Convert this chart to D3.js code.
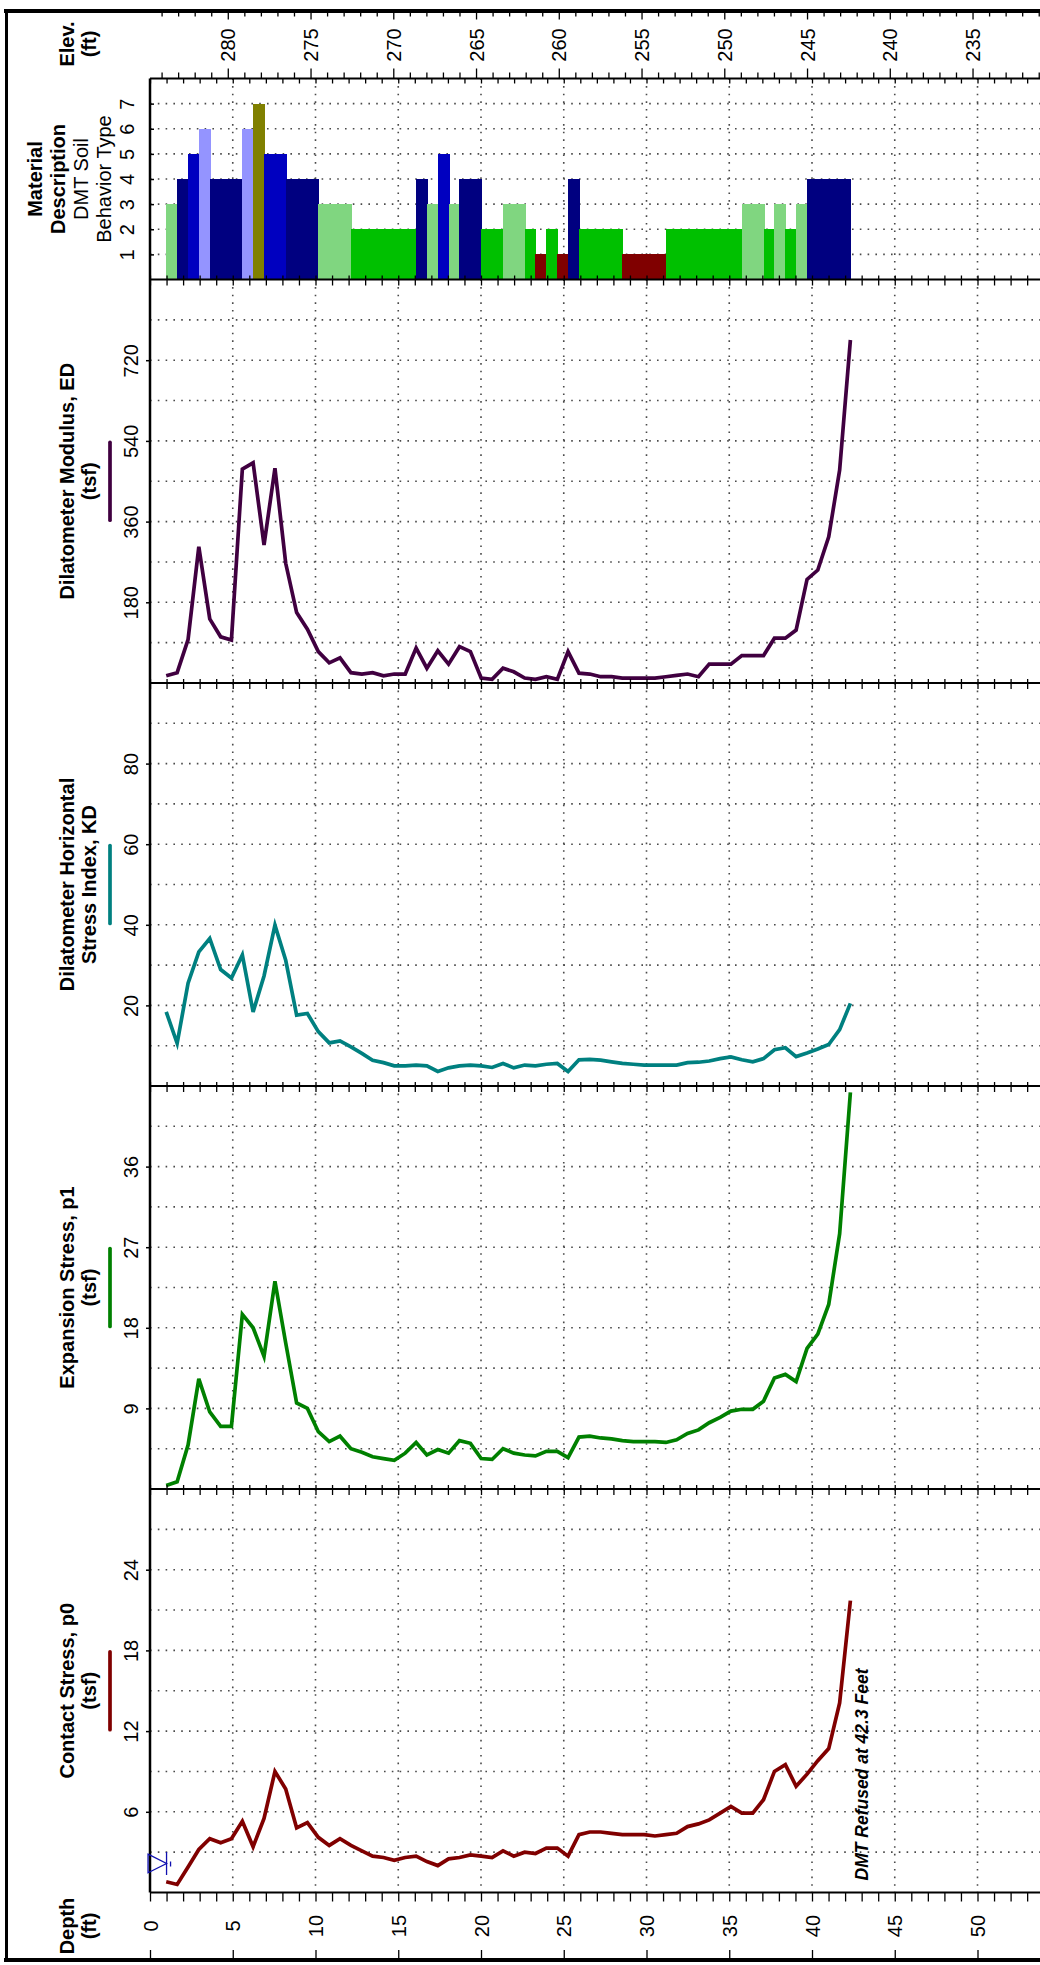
<!DOCTYPE html>
<html>
<head>
<meta charset="utf-8">
<script src="https://cdn.jsdelivr.net/npm/d3@7"></script>
<style>
    body { margin: 0; background: #fff; }
    svg { display: block; font-family: "Liberation Sans", Arial, sans-serif; }
</style>
</head>
<body>
<div class="chart"></div>
<script>
// depth of each DMT reading (ft)
const depths = [0.98, 1.64, 2.30, 2.95, 3.61, 4.27, 4.92, 5.58, 6.23, 6.89,
    7.55, 8.20, 8.86, 9.51, 10.17, 10.83, 11.48, 12.14, 12.80, 13.45,
    14.11, 14.76, 15.42, 16.08, 16.73, 17.39, 18.04, 18.70, 19.36, 20.01,
    20.67, 21.33, 21.98, 22.64, 23.29, 23.95, 24.61, 25.26, 25.92, 26.57,
    27.23, 27.89, 28.54, 29.20, 29.86, 30.51, 31.17, 31.82, 32.48, 33.14,
    33.79, 34.45, 35.10, 35.76, 36.42, 37.07, 37.73, 38.39, 39.04, 39.70,
    40.35, 41.01, 41.67, 42.32];

// soil behavior type for each interval depths[i]..depths[i+1]
const soilType = [3, 4, 5, 6, 4, 4, 4, 6, 7, 5, 5, 4, 4, 4, 3, 3, 3, 2, 2, 2,
    2, 2, 2, 4, 3, 5, 3, 4, 4, 2, 2, 3, 3, 2, 1, 2, 1, 4, 2, 2,
    2, 2, 1, 1, 1, 1, 2, 2, 2, 2, 2, 2, 2, 3, 3, 2, 3, 2, 3, 4,
    4, 4, 4];

const edValues = [16, 23, 97, 304, 143, 103, 96, 477, 491, 308,
    479, 267, 157, 120, 70, 45, 56, 23, 20, 23,
    16, 20, 20, 78, 33, 72, 42, 81, 70, 11,
    8, 33, 25, 11, 8, 14, 8, 70, 22, 20,
    14, 14, 11, 11, 11, 11, 14, 17, 20, 14,
    42, 42, 42, 61, 61, 61, 100, 100, 118, 231,
    252, 326, 475, 765];

const kdValues = [18.4, 10.6, 25.5, 33.3, 36.6, 28.9, 26.8, 32.5, 18.4, 27.3,
    39.9, 31.2, 17.6, 18.0, 13.5, 10.7, 11.2, 9.7, 8.1, 6.4,
    5.8, 5.0, 5.0, 5.2, 5.0, 3.6, 4.5, 5.0, 5.2, 5.0,
    4.6, 5.6, 4.5, 5.2, 5.0, 5.4, 5.6, 3.6, 6.5, 6.6,
    6.4, 6.0, 5.6, 5.4, 5.2, 5.2, 5.2, 5.2, 5.8, 5.9,
    6.2, 6.8, 7.2, 6.5, 6.0, 6.8, 9.0, 9.5, 7.3, 8.2,
    9.2, 10.3, 14.0, 20.5];

const p1Values = [0.4, 0.8, 4.9, 12.3, 8.6, 7.0, 7.0, 19.5, 18.0, 14.8,
    23.2, 16.3, 9.6, 9.0, 6.4, 5.3, 5.9, 4.5, 4.1, 3.6,
    3.4, 3.2, 4.0, 5.2, 3.8, 4.4, 4.0, 5.4, 5.1, 3.4,
    3.3, 4.5, 4.0, 3.8, 3.7, 4.2, 4.2, 3.5, 5.8, 5.9,
    5.7, 5.6, 5.4, 5.3, 5.3, 5.3, 5.2, 5.5, 6.2, 6.6,
    7.4, 8.0, 8.7, 8.9, 8.9, 9.8, 12.4, 12.8, 12.0, 15.7,
    17.3, 20.6, 28.5, 44.3];

const p0Values = [0.8, 0.6, 1.9, 3.2, 4.0, 3.7, 4.0, 5.3, 3.4, 5.5,
    9.0, 7.7, 4.8, 5.2, 4.1, 3.5, 4.0, 3.5, 3.1, 2.7,
    2.6, 2.4, 2.6, 2.7, 2.3, 2.0, 2.5, 2.6, 2.8, 2.7,
    2.6, 3.1, 2.7, 3.0, 2.9, 3.3, 3.3, 2.7, 4.3, 4.5,
    4.5, 4.4, 4.3, 4.3, 4.3, 4.2, 4.3, 4.4, 4.9, 5.1,
    5.4, 5.9, 6.4, 5.9, 5.9, 6.9, 9.0, 9.5, 7.9, 8.8,
    9.8, 10.7, 14.1, 21.7];

const depthTicks = [0, 5, 10, 15, 20, 25, 30, 35, 40, 45, 50];
const elevTicks = [280, 275, 270, 265, 260, 255, 250, 245, 240, 235];
const soilTicks = [1, 2, 3, 4, 5, 6, 7];
const edTicks = [180, 360, 540, 720];
const kdTicks = [20, 40, 60, 80];
const p1Ticks = [9, 18, 27, 36];
const p0Ticks = [6, 12, 18, 24];

const groundElev = 284.7;
const waterDepth = 1.0;
const refusalDepth = 42.3;

const w = 1040;
const h = 1965;
const left = 150;
const pxPerFt = 16.55;

const soilColors = d3.scaleOrdinal()
    .domain([1, 2, 3, 4, 5, 6, 7])
    .range(["#800000", "#00c000", "#80d680", "#000080", "#0000c0", "#9494ff", "#808000"]);

const svg = d3.select(".chart")
    .append("svg")
    .attr("width", w)
    .attr("height", h);

const x = d3.scaleLinear().domain([0, 55]).range([left, left + 55 * pxPerFt]);
const xElev = d3.scaleLinear()
    .domain([groundElev, groundElev - 55])
    .range(x.range());

const panels = [
    { id: "soil", top: 78.5, bottom: 279.5, max: 8, ticks: soilTicks, step: 1 },
    { id: "ed", top: 279.5, bottom: 683, max: 900, ticks: edTicks, step: 90,
      values: edValues, color: "#400040",
      title: ["Dilatometer Modulus, ED", "(tsf)"] },
    { id: "kd", top: 683, bottom: 1086, max: 100, ticks: kdTicks, step: 10,
      values: kdValues, color: "#008080",
      title: ["Dilatometer Horizontal", "Stress Index, KD"] },
    { id: "p1", top: 1086, bottom: 1489, max: 45, ticks: p1Ticks, step: 4.5,
      values: p1Values, color: "#008000",
      title: ["Expansion Stress, p1", "(tsf)"] },
    { id: "p0", top: 1489, bottom: 1892.5, max: 30, ticks: p0Ticks, step: 3,
      values: p0Values, color: "#800000",
      title: ["Contact Stress, p0", "(tsf)"] },
];

// rotated text helper
function vtext(g, tx, ty, str, opts = {}) {
    return g.append("text")
        .attr("transform", `translate(${tx},${ty}) rotate(-90)`)
        .attr("text-anchor", opts.anchor || "middle")
        .attr("font-size", opts.size || 20)
        .attr("font-weight", opts.bold ? "bold" : null)
        .attr("font-style", opts.italic ? "italic" : null)
        .attr("dy", opts.dy || null)
        .attr("fill", "#000")
        .text(str);
}

panels.forEach((p) => {
    const y = d3.scaleLinear().domain([0, p.max]).range([p.bottom, p.top]);
    p.y = y;
    const g = svg.append("g").attr("id", p.id);

    // dotted grid
    const hLines = d3.range(p.step, p.max - 0.001, p.step);
    g.append("g")
        .selectAll("line")
        .data(hLines)
        .join("line")
        .attr("x1", left)
        .attr("x2", w)
        .attr("y1", (d) => y(d))
        .attr("y2", (d) => y(d))
        .attr("stroke", "#4a4a4a")
        .attr("stroke-width", 1.6)
        .attr("stroke-dasharray", "1.6,6.2");
    g.append("g")
        .selectAll("line")
        .data(depthTicks.filter((d) => d > 0).concat([55]))
        .join("line")
        .attr("x1", (d) => x(d))
        .attr("x2", (d) => x(d))
        .attr("y1", p.top)
        .attr("y2", p.bottom)
        .attr("stroke", "#4a4a4a")
        .attr("stroke-width", 1.6)
        .attr("stroke-dasharray", "1.6,6");

    if (p.id === "soil") {
        g.append("g")
            .attr("shape-rendering", "crispEdges")
            .selectAll("rect")
            .data(soilType)
            .join("rect")
            .attr("x", (d, i) => x(depths[i]))
            .attr("width", (d, i) => x(depths[i + 1]) - x(depths[i]) + 1)
            .attr("y", (d) => y(d))
            .attr("height", (d) => y(0) - y(d))
            .attr("fill", (d) => soilColors(d));
    } else {
        g.append("path")
            .datum(p.values)
            .attr("fill", "none")
            .attr("stroke", p.color)
            .attr("stroke-width", 3.7)
            .attr("stroke-linejoin", "miter")
            .attr("d", d3.line().x((d, i) => x(depths[i])).y((d) => y(d)));

        // legend sample
        const mid = (p.top + p.bottom) / 2;
        g.append("line")
            .attr("x1", 110).attr("x2", 110)
            .attr("y1", mid - 39).attr("y2", mid + 39)
            .attr("stroke", p.color)
            .attr("stroke-width", 3.7)
            .attr("stroke-linecap", "round");
        vtext(g, 74, mid, p.title[0], { bold: true });
        vtext(g, 96, mid, p.title[1], { bold: true });
    }

    // y axis
    const axis = d3.axisLeft(y)
        .tickValues(p.ticks)
        .tickSize(p.id === "soil" ? -4 : 4)
        .tickFormat(d3.format("d"));
    const ga = g.append("g")
        .attr("transform", `translate(${left},0)`)
        .call(axis);
    ga.select(".domain").remove();
    ga.selectAll(".tick line").attr("stroke", "#000").attr("stroke-width", 1.5);
    ga.selectAll(".tick text")
        .attr("x", null)
        .attr("dy", null)
        .attr("transform", `translate(${p.id === "soil" ? -16 : -12},0) rotate(-90)`)
        .attr("text-anchor", "middle")
        .attr("font-size", 20)
        .attr("font-family", "Liberation Sans, Arial, sans-serif")
        .attr("fill", "#000");

    // depth ticks on the panel top
    const tickUp = p.id === "soil" ? 0 : 4;
    const tickDown = p.id === "soil" ? 5 : 6;
    const gt = g.append("g")
        .attr("transform", `translate(0,${p.top})`)
        .call(d3.axisBottom(x).tickValues(d3.range(0, 54)).tickSize(tickDown).tickFormat(""));
    gt.select(".domain").remove();
    gt.selectAll(".tick line")
        .attr("y1", -tickUp)
        .attr("stroke", "#000")
        .attr("stroke-width", 1.3);

    // frame lines
    g.append("line")
        .attr("x1", left).attr("x2", w)
        .attr("y1", p.top).attr("y2", p.top)
        .attr("stroke", "#000").attr("stroke-width", 2);
});

// soil panel labels
const soil = panels[0];
const soilMid = (soil.top + soil.bottom) / 2;
vtext(svg, 42, soilMid, "Material", { bold: true });
vtext(svg, 65, soilMid, "Description", { bold: true });
vtext(svg, 88, soilMid, "DMT Soil");
vtext(svg, 111, soilMid, "Behavior Type");

// bottom of last panel
const last = panels[panels.length - 1];
svg.append("line")
    .attr("x1", left).attr("x2", w)
    .attr("y1", last.bottom).attr("y2", last.bottom)
    .attr("stroke", "#000").attr("stroke-width", 2);
const gb = svg.append("g")
    .attr("transform", `translate(0,${last.bottom})`)
    .call(d3.axisBottom(x).tickValues(d3.range(0, 54)).tickSize(9).tickFormat(""));
gb.select(".domain").remove();
gb.selectAll(".tick line").attr("stroke", "#000").attr("stroke-width", 1.3);

// left axis line
svg.append("line")
    .attr("x1", left).attr("x2", left)
    .attr("y1", soil.top).attr("y2", last.bottom)
    .attr("stroke", "#000").attr("stroke-width", 2.5);

// water table marker
const wx = x(waterDepth);
const wy = last.bottom - 29;
const water = svg.append("g").attr("stroke", "#1010b0").attr("stroke-width", 1.3).attr("fill", "none");
water.append("path").attr("d", `M${wx - 18.5},${wy - 9.3}L${wx},${wy}L${wx - 18.5},${wy + 9.3}Z`);
water.append("line").attr("x1", wx).attr("x2", wx).attr("y1", wy - 11.5).attr("y2", wy + 11.5);
water.append("line").attr("x1", wx + 4).attr("x2", wx + 4).attr("y1", wy - 2).attr("y2", wy + 3);

// refusal note
vtext(svg, x(refusalDepth) + 18, last.bottom - 12, "DMT Refused at 42.3 Feet",
    { anchor: "start", italic: true, bold: true, size: 17.5 });

// depth axis labels
const gd = svg.append("g")
    .attr("transform", `translate(0,1926)`)
    .call(d3.axisBottom(x).tickValues(depthTicks).tickSize(0).tickFormat(d3.format("d")));
gd.select(".domain").remove();
gd.selectAll(".tick text")
    .attr("y", null)
    .attr("dy", "0.35em")
    .attr("transform", "rotate(-90)")
    .attr("text-anchor", "middle")
    .attr("font-size", 20)
    .attr("font-family", "Liberation Sans, Arial, sans-serif")
    .attr("fill", "#000");
vtext(svg, 74, 1926, "Depth", { bold: true });
vtext(svg, 96, 1926, "(ft)", { bold: true });

// bottom frame with major ticks
svg.append("line")
    .attr("x1", 4).attr("x2", w)
    .attr("y1", 1960).attr("y2", 1960)
    .attr("stroke", "#000").attr("stroke-width", 4);
const gbt = svg.append("g")
    .attr("transform", "translate(0,1958)")
    .call(d3.axisTop(x).tickValues(depthTicks).tickSize(8).tickFormat(""));
gbt.select(".domain").remove();
gbt.selectAll(".tick line").attr("stroke", "#000").attr("stroke-width", 1.3);

// elevation header
const elevMinor = d3.range(284, 230, -1);
const ge1 = svg.append("g")
    .attr("transform", "translate(0,13)")
    .call(d3.axisBottom(xElev).tickValues(elevMinor).tickSize(3.5).tickFormat(""));
ge1.select(".domain").remove();
ge1.selectAll(".tick line")
    .attr("y2", (d) => (d % 5 === 0 ? 6.5 : 3.5))
    .attr("stroke", "#000").attr("stroke-width", 1.3);
const ge2 = svg.append("g")
    .attr("transform", `translate(0,${soil.top})`)
    .call(d3.axisTop(xElev).tickValues(elevMinor).tickSize(6).tickFormat(""));
ge2.select(".domain").remove();
ge2.selectAll(".tick line")
    .attr("y2", (d) => (d % 5 === 0 ? -10 : -6))
    .attr("stroke", "#000").attr("stroke-width", 1.3);
const ge3 = svg.append("g")
    .attr("transform", "translate(0,45)")
    .call(d3.axisBottom(xElev).tickValues(elevTicks).tickSize(0).tickFormat(d3.format("d")));
ge3.select(".domain").remove();
ge3.selectAll(".tick text")
    .attr("y", null)
    .attr("dy", "0.35em")
    .attr("transform", "rotate(-90)")
    .attr("text-anchor", "middle")
    .attr("font-size", 20)
    .attr("font-family", "Liberation Sans, Arial, sans-serif")
    .attr("fill", "#000");
vtext(svg, 74, 44, "Elev.", { bold: true });
vtext(svg, 96, 44, "(ft)", { bold: true });

// outer frame
svg.append("line")
    .attr("x1", 4).attr("x2", w)
    .attr("y1", 11).attr("y2", 11)
    .attr("stroke", "#000").attr("stroke-width", 4);
svg.append("line")
    .attr("x1", 6.5).attr("x2", 6.5)
    .attr("y1", 9).attr("y2", 1962)
    .attr("stroke", "#000").attr("stroke-width", 3);
</script>
</body>
</html>
